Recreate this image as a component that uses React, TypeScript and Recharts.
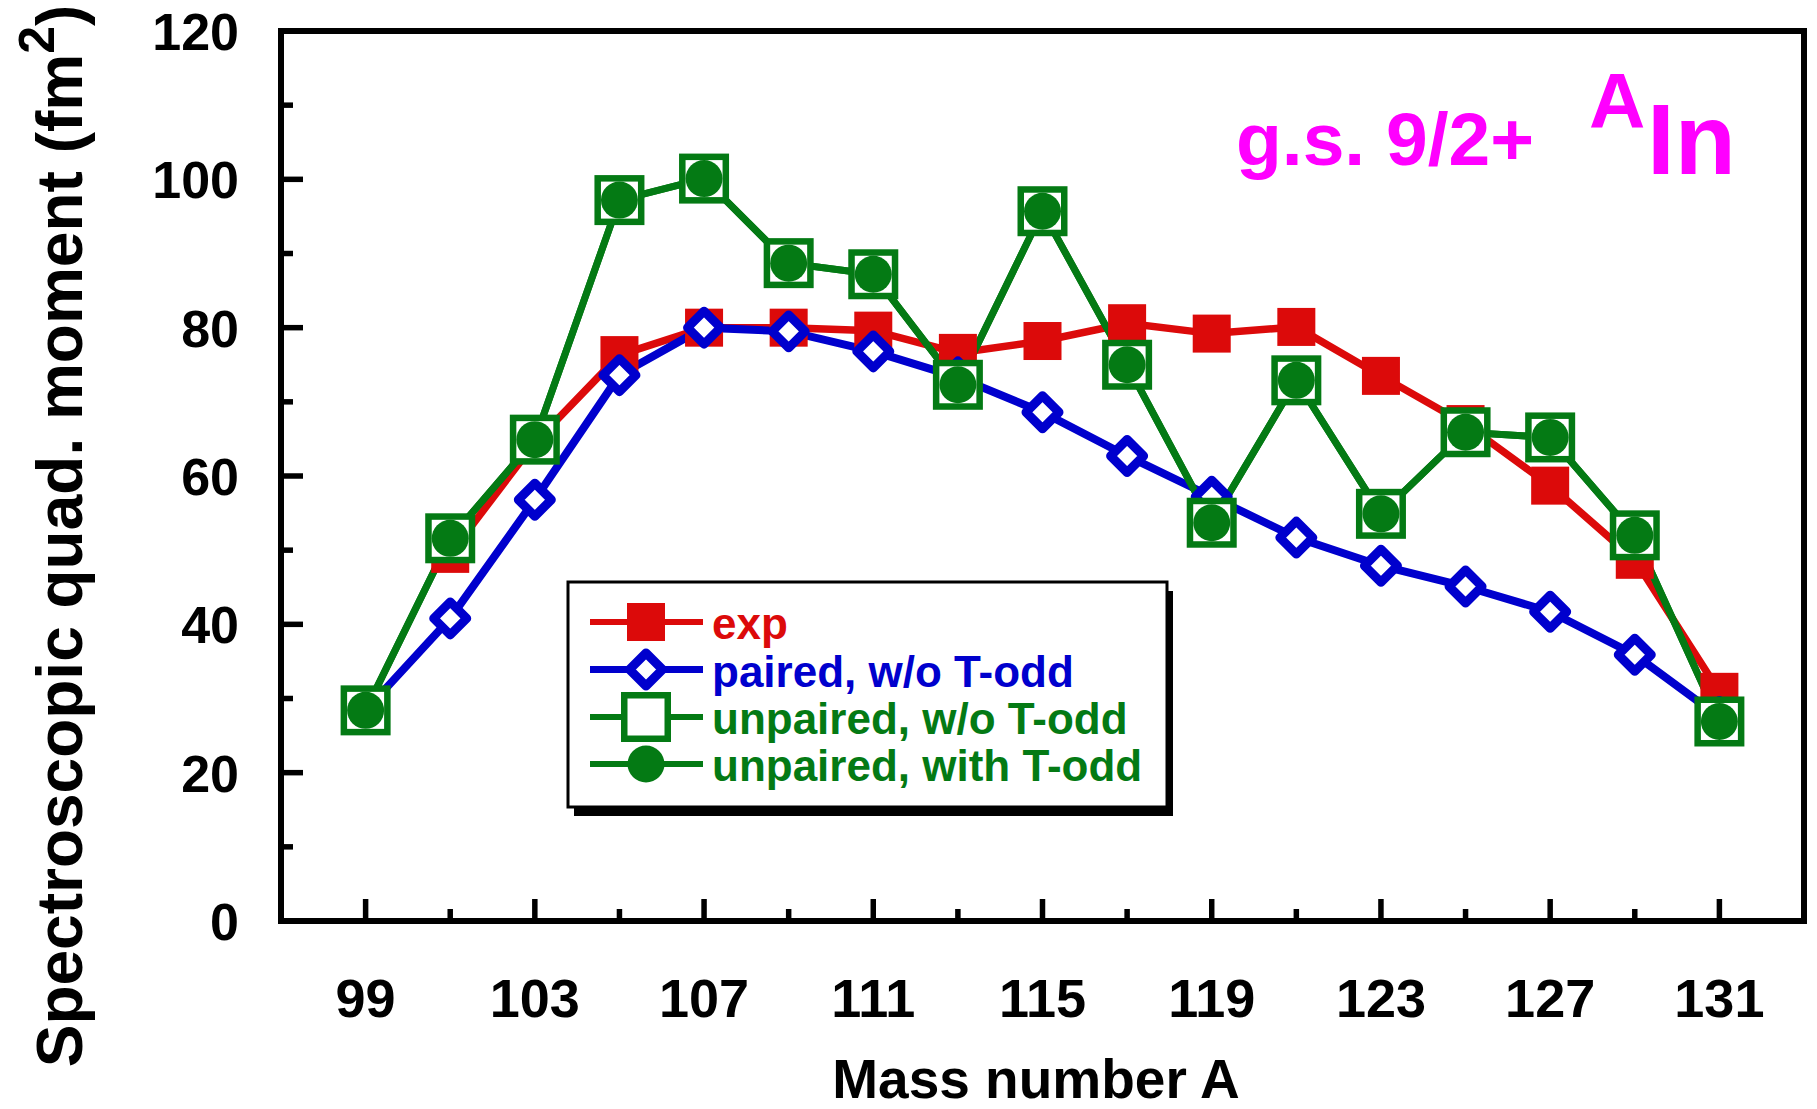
import React from 'react';
import { LineChart, Line, XAxis, YAxis, ReferenceArea, Legend, Customized } from 'recharts';

// Mass numbers of the odd-A indium isotopes
const massNumbers = [99, 101, 103, 105, 107, 109, 111, 113, 115, 117, 119, 121, 123, 125, 127, 129, 131];

// Spectroscopic quadrupole moments (fm^2) of the 9/2+ ground states
const expQ = [null, 49.5, 64.5, 76.3, 80.0, 80.0, 79.6, 76.6, 78.2, 80.6, 79.2, 80.1, 73.5, 67.0, 58.7, 48.7, 30.9];
const pairedNoToddQ = [28.4, 40.8, 56.8, 73.6, 80.0, 79.5, 76.8, 73.3, 68.6, 62.7, 57.2, 51.7, 47.9, 45.1, 41.7, 35.9, 27.5];
const unpairedNoToddQ = [28.4, 51.6, 64.9, 97.2, 100.1, 88.7, 87.2, 72.3, 95.7, 75.0, 53.7, 72.9, 54.9, 65.9, 65.2, 52.0, 26.9];
const unpairedToddQ = [28.4, 51.6, 64.9, 97.2, 100.1, 88.7, 87.2, 72.3, 95.7, 75.0, 53.7, 72.9, 54.9, 65.9, 65.2, 52.0, 26.9];

const seriesNames = ['exp', 'paired, w/o T-odd', 'unpaired, w/o T-odd', 'unpaired, with T-odd'];

// Axis ticks
const xTicks = [99, 101, 103, 105, 107, 109, 111, 113, 115, 117, 119, 121, 123, 125, 127, 129, 131];
const xLabelTicks = [99, 103, 107, 111, 115, 119, 123, 127, 131];
const yTicks = [0, 10, 20, 30, 40, 50, 60, 70, 80, 90, 100, 110, 120];
const yLabelTicks = [0, 20, 40, 60, 80, 100, 120];

const data = massNumbers.map((a, i) => ({
  A: a,
  exp: expQ[i],
  paired: pairedNoToddQ[i],
  unpaired: unpairedNoToddQ[i],
  unpairedT: unpairedToddQ[i],
}));

const RED = '#DC0A0A';
const BLUE = '#0000CD';
const GREEN = '#047A14';
const MAGENTA = '#FF00FF';
const FONT = '"Liberation Sans", Arial, Helvetica, sans-serif';

const MAJOR = 22;
const MINOR = 12;
const TICK_W = 5.5;

// ---- markers ----
const drawMarker = (kind: string, cx: number, cy: number, key?: string | number) => {
  if (cx == null || cy == null || Number.isNaN(cx) || Number.isNaN(cy)) return <g key={key} />;
  switch (kind) {
    case 'exp':
      return <rect key={key} x={cx - 19} y={cy - 19} width={38} height={38} fill={RED} />;
    case 'paired':
      return (
        <path
          key={key}
          d={`M${cx},${cy - 16.5} L${cx + 16.5},${cy} L${cx},${cy + 16.5} L${cx - 16.5},${cy} Z`}
          fill="#fff"
          stroke={BLUE}
          strokeWidth={9}
          strokeLinejoin="round"
        />
      );
    case 'unpaired':
      return <rect key={key} x={cx - 21.75} y={cy - 21.75} width={43.5} height={43.5} fill="#fff" stroke={GREEN} strokeWidth={6.5} />;
    default:
      return <circle key={key} cx={cx} cy={cy} r={18.5} fill={GREEN} />;
  }
};

const makeDot = (kind: string) => (props: any) => drawMarker(kind, props.cx, props.cy, props.index);

// ---- axis ticks (drawn inward) ----
const BottomTick = (props: any) => {
  const { x, y, payload } = props;
  const major = xLabelTicks.includes(payload.value);
  return (
    <g>
      <line x1={x} y1={y} x2={x} y2={y - (major ? MAJOR : MINOR)} stroke="#000" strokeWidth={TICK_W} />
      {major && (
        <text x={x} y={y + 96} textAnchor="middle" fontFamily={FONT} fontWeight="bold" fontSize={54} fill="#000">
          {payload.value}
        </text>
      )}
    </g>
  );
};

const TopTick = (props: any) => {
  const { x, y, payload } = props;
  const major = xLabelTicks.includes(payload.value);
  return <line x1={x} y1={y} x2={x} y2={y + (major ? MAJOR : MINOR)} stroke="#000" strokeWidth={TICK_W} />;
};

const LeftTick = (props: any) => {
  const { x, y, payload } = props;
  const major = yLabelTicks.includes(payload.value);
  return (
    <g>
      <line x1={x} y1={y} x2={x + (major ? MAJOR : MINOR)} y2={y} stroke="#000" strokeWidth={TICK_W} />
      {major && (
        <text x={x - 42} y={y + 19} textAnchor="end" fontFamily={FONT} fontWeight="bold" fontSize={52} fill="#000">
          {payload.value}
        </text>
      )}
    </g>
  );
};

const RightTick = (props: any) => {
  const { x, y, payload } = props;
  const major = yLabelTicks.includes(payload.value);
  return <line x1={x} y1={y} x2={x - (major ? MAJOR : MINOR)} y2={y} stroke="#000" strokeWidth={TICK_W} />;
};

// ---- axis titles ----
const XTitle = () => (
  <text x={1036} y={1098} textAnchor="middle" fontFamily={FONT} fontWeight="bold" fontSize={55} fill="#000">
    Mass number A
  </text>
);

const YTitle = () => (
  <text
    x={82}
    y={536}
    transform="rotate(-90 82 536)"
    textAnchor="middle"
    fontFamily={FONT}
    fontWeight="bold"
    fontSize={64}
    fill="#000"
  >
    Spectroscopic quad. moment (fm
    <tspan fontSize={50} dy={-28}>2</tspan>
    <tspan dy={28}>)</tspan>
  </text>
);

// ---- nucleus / state annotation ----
const Annotation = () => (
  <g fontFamily={FONT} fontWeight="bold" fill={MAGENTA}>
    <text x={1236} y={165} fontSize={75} fill={MAGENTA}>g.s. 9/2+</text>
    <text x={1589} y={128} fontSize={78} fill={MAGENTA}>A</text>
    <text x={1647} y={174} fontSize={100} fill={MAGENTA}>In</text>
  </g>
);

// ---- legend ----
const legendKinds: Record<string, { kind: string; color: string; lw: number }> = {
  exp: { kind: 'exp', color: RED, lw: 6 },
  paired: { kind: 'paired', color: BLUE, lw: 7 },
  unpaired: { kind: 'unpaired', color: GREEN, lw: 6 },
  unpairedT: { kind: 'unpairedT', color: GREEN, lw: 6 },
};

const LegendBox = (props: any) => {
  const payload = props.payload || [];
  const rowY = [42, 89.5, 137, 184];
  return (
    <svg width={616} height={240} style={{ display: 'block', overflow: 'visible' }}>
      <rect x={8} y={11} width={599} height={225} fill="#000" />
      <rect x={2} y={2} width={599} height={225} fill="#fff" stroke="#000" strokeWidth={3} />
      {payload.map((entry: any, i: number) => {
        const cfg = legendKinds[entry.dataKey as string];
        const y = rowY[i];
        return (
          <g key={entry.dataKey}>
            <line x1={24} y1={y} x2={137} y2={y} stroke={cfg.color} strokeWidth={cfg.lw} />
            {drawMarker(cfg.kind, 80, y)}
            <text x={146} y={y + 17} fontFamily={FONT} fontWeight="bold" fontSize={44} fill={cfg.color}>
              {entry.value}
            </text>
          </g>
        );
      })}
    </svg>
  );
};

export default function App() {
  return (
    <div style={{ position: 'absolute', left: 0, top: 0, width: 1817, height: 1109, background: '#fff' }}>
      <LineChart width={1817} height={1109} data={data} margin={{ top: 31, right: 13, bottom: 0, left: 0 }}>
        <XAxis
          dataKey="A"
          type="number"
          domain={[97, 133]}
          ticks={xTicks}
          interval={0}
          height={188}
          axisLine={false}
          tickLine={false}
          tickSize={0}
          tickMargin={0}
          tick={<BottomTick />}
          label={<XTitle />}
        />
        <XAxis
          xAxisId="top"
          dataKey="A"
          type="number"
          orientation="top"
          domain={[97, 133]}
          ticks={xTicks}
          interval={0}
          height={0}
          axisLine={false}
          tickLine={false}
          tickSize={0}
          tickMargin={0}
          tick={<TopTick />}
        />
        <YAxis
          type="number"
          domain={[0, 120]}
          ticks={yTicks}
          interval={0}
          width={281}
          axisLine={false}
          tickLine={false}
          tickSize={0}
          tickMargin={0}
          tick={<LeftTick />}
          label={<YTitle />}
        />
        <YAxis
          yAxisId="right"
          type="number"
          orientation="right"
          domain={[0, 120]}
          ticks={yTicks}
          interval={0}
          width={0}
          axisLine={false}
          tickLine={false}
          tickSize={0}
          tickMargin={0}
          tick={<RightTick />}
        />
        <ReferenceArea x1={97} x2={133} y1={0} y2={120} fill="none" fillOpacity={0} stroke="#000" strokeWidth={6} />
        <Line
          dataKey="exp"
          name={seriesNames[0]}
          type="linear"
          stroke={RED}
          strokeWidth={7.5}
          dot={makeDot('exp')}
          activeDot={false}
          isAnimationActive={false}
        />
        <Line
          dataKey="paired"
          name={seriesNames[1]}
          type="linear"
          stroke={BLUE}
          strokeWidth={8}
          dot={makeDot('paired')}
          activeDot={false}
          isAnimationActive={false}
        />
        <Line
          dataKey="unpaired"
          name={seriesNames[2]}
          type="linear"
          stroke={GREEN}
          strokeWidth={7}
          dot={makeDot('unpaired')}
          activeDot={false}
          isAnimationActive={false}
        />
        <Line
          dataKey="unpairedT"
          name={seriesNames[3]}
          type="linear"
          stroke={GREEN}
          strokeWidth={7}
          dot={makeDot('unpairedT')}
          activeDot={false}
          isAnimationActive={false}
        />
        <Legend
          layout="horizontal"
          align="center"
          verticalAlign="middle"
          content={<LegendBox />}
          wrapperStyle={{ position: 'absolute', left: 566, top: 580, width: 616, height: 240 }}
        />
        <Customized component={Annotation} />
      </LineChart>
    </div>
  );
}
